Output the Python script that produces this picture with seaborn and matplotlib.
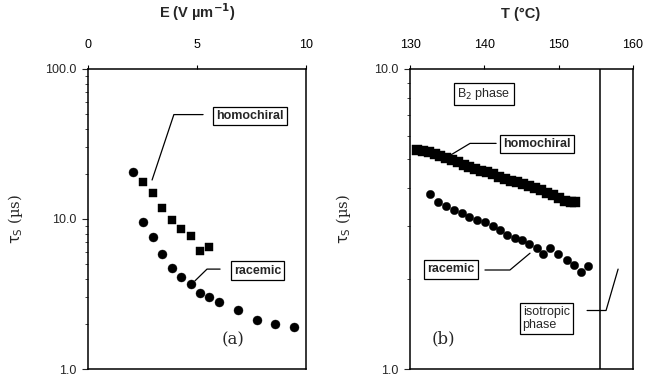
import matplotlib
matplotlib.use("Agg")
import matplotlib.pyplot as plt
import seaborn as sns
import numpy as np
from matplotlib.ticker import FixedLocator, FormatStrFormatter, LogLocator, NullFormatter
from matplotlib.lines import Line2D

# ---- data ----
E_racemic = [2.06, 2.52, 2.98, 3.39, 3.85, 4.27, 4.72, 5.14, 5.55, 6.01, 6.88, 7.75, 8.58, 9.45]
tau_E_racemic = [20.6, 9.6, 7.55, 5.83, 4.71, 4.11, 3.70, 3.22, 3.03, 2.81, 2.49, 2.11, 2.01, 1.92]
E_homochiral = [2.52, 2.98, 3.39, 3.85, 4.27, 4.72, 5.14, 5.55]
tau_E_homochiral = [17.7, 15.0, 11.9, 9.78, 8.53, 7.66, 6.10, 6.49]

T_homochiral = [130.9, 131.7, 132.5, 133.3, 134.0, 134.8, 135.6, 136.4, 137.2, 138.0,
                138.8, 139.6, 140.4, 141.2, 142.0, 142.8, 143.6, 144.4, 145.2, 146.0,
                146.8, 147.6, 148.4, 149.2, 150.0, 150.8, 151.6, 152.2]
tau_T_homochiral = [5.36, 5.32, 5.28, 5.20, 5.12, 5.06, 4.98, 4.90, 4.80, 4.72,
                    4.65, 4.58, 4.52, 4.45, 4.38, 4.30, 4.22, 4.20, 4.14, 4.08,
                    4.02, 3.95, 3.85, 3.80, 3.72, 3.64, 3.60, 3.61]
T_racemic = [132.7, 133.8, 134.8, 135.9, 137.0, 137.9, 139.0, 140.1, 141.2, 142.1, 143.1,
             144.1, 145.1, 146.0, 147.1, 147.9, 148.8, 149.9, 151.1, 152.1, 153.0, 154.0]
tau_T_racemic = [3.84, 3.61, 3.50, 3.40, 3.32, 3.22, 3.15, 3.10, 2.99, 2.90, 2.79,
                 2.73, 2.69, 2.61, 2.53, 2.41, 2.53, 2.41, 2.31, 2.22, 2.11, 2.20]
T_isotropic = 155.6

E_ticks = [0, 5, 10]
T_ticks = [130, 140, 150, 160]

sns.set_style("ticks")
plt.rcParams['font.family'] = ['Liberation Sans', 'DejaVu Sans']

fig = plt.figure(figsize=(6.59, 3.77), dpi=100)
axL = fig.add_axes([0.1335, 0.0212, 0.3308, 0.7958])
axR = fig.add_axes([0.6222, 0.0212, 0.3384, 0.7958])

sns.scatterplot(x=E_racemic, y=tau_E_racemic, marker='o', color='black', s=42,
                edgecolor='black', linewidth=0.3, ax=axL, zorder=3)
sns.scatterplot(x=E_homochiral, y=tau_E_homochiral, marker='s', color='black', s=40,
                edgecolor='black', linewidth=0.3, ax=axL, zorder=3)
sns.scatterplot(x=T_homochiral, y=tau_T_homochiral, marker='s', color='black', s=44,
                edgecolor='black', linewidth=0.3, ax=axR, zorder=3)
sns.scatterplot(x=T_racemic, y=tau_T_racemic, marker='o', color='black', s=36,
                edgecolor='black', linewidth=0.3, ax=axR, zorder=3)
axR.axvline(T_isotropic, color='black', lw=1.1)

def style(ax, xlim, xticks, ylim, yticks, xlabel):
    ax.set_yscale('log')
    ax.set_xlim(*xlim)
    ax.set_ylim(*ylim)
    ax.xaxis.set_ticks_position('top')
    ax.xaxis.set_label_position('top')
    ax.set_xticks(xticks)
    ax.set_xticklabels([str(t) for t in xticks])
    ax.yaxis.set_major_locator(FixedLocator(yticks))
    ax.yaxis.set_major_formatter(FormatStrFormatter('%.1f'))
    ax.yaxis.set_minor_locator(LogLocator(base=10, subs=np.arange(2, 10)))
    ax.yaxis.set_minor_formatter(NullFormatter())
    ax.tick_params(axis='x', which='both', direction='out', length=3, width=0.8,
                   pad=10, labelsize=9, colors='black')
    ax.tick_params(axis='y', which='major', direction='out', length=4, width=0.8,
                   pad=4, labelsize=9)
    ax.tick_params(axis='y', which='minor', direction='out', length=2.5, width=0.6)
    for sp in ax.spines.values():
        sp.set_visible(True)
        sp.set_color('black')
        sp.set_linewidth(1.1)
    ax.set_xlabel(xlabel, fontsize=10.5, fontweight='bold')
    ax.set_ylabel(r'$\mathrm{\tau_S}$ (µs)', fontsize=10.5, family='DejaVu Serif')

style(axL, (0, 10), E_ticks, (1.0, 100.0), [1.0, 10.0, 100.0], r'E (V µm$^{\mathbf{-1}}$)')
style(axR, (130, 160), T_ticks, (1.0, 10.0), [1.0, 10.0], 'T (°C)')
axL.xaxis.set_label_coords(0.5, 1.17)
axR.xaxis.set_label_coords(0.498, 1.17)
axL.yaxis.set_label_coords(-0.29, 0.5)
axR.yaxis.set_label_coords(-0.256, 0.5)

box = dict(boxstyle='square,pad=0.25', fc='white', ec='black', lw=0.9)

def label(ax, x, y, s, bold=True, ha='center'):
    ax.text(x, y, s, transform=ax.transAxes, ha=ha, va='center', fontsize=9,
            fontweight='bold' if bold else 'normal', bbox=box, zorder=5)

def leader(ax, xs, ys):
    ax.add_line(Line2D(xs, ys, transform=ax.transAxes, color='black', lw=0.9, zorder=4))

label(axL, 0.743, 0.843, 'homochiral')
leader(axL, [0.528, 0.394, 0.294], [0.848, 0.848, 0.630])
label(axL, 0.778, 0.328, 'racemic')
leader(axL, [0.606, 0.546, 0.491], [0.333, 0.333, 0.294])
axL.text(0.665, 0.096, '(a)', transform=axL.transAxes, ha='center', va='center',
         fontsize=12, family='DejaVu Serif')

label(axR, 0.332, 0.916, r'B$_2$ phase', bold=False)
label(axR, 0.570, 0.749, 'homochiral')
leader(axR, [0.386, 0.269, 0.166], [0.752, 0.752, 0.706])
label(axR, 0.184, 0.332, 'racemic')
leader(axR, [0.336, 0.448, 0.538], [0.330, 0.330, 0.386])
axR.text(0.505, 0.167, 'isotropic\nphase', transform=axR.transAxes, ha='left', va='center',
         fontsize=9, linespacing=1.1, bbox=box, zorder=5)
leader(axR, [0.794, 0.879, 0.933], [0.195, 0.195, 0.333])
axR.text(0.148, 0.099, '(b)', transform=axR.transAxes, ha='center', va='center',
         fontsize=12, family='DejaVu Serif')

fig.savefig('out.png', dpi=100)
